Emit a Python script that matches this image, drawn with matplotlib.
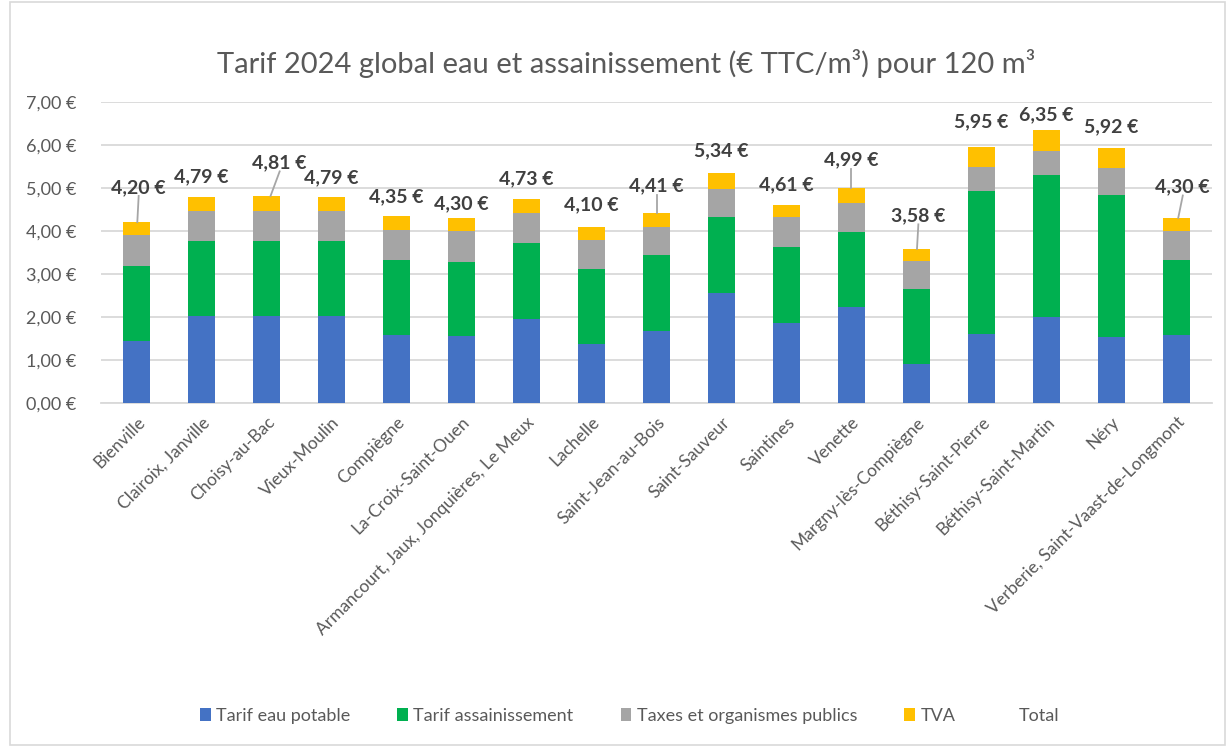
import numpy as np
import matplotlib
matplotlib.use("Agg")
import matplotlib.pyplot as plt
from matplotlib.patches import Patch, Rectangle

plt.rcParams['font.family'] = ['Lato', 'DejaVu Sans']

communes = ['Bienville', 'Clairoix, Janville', 'Choisy-au-Bac', 'Vieux-Moulin', 'Compiègne',
            'La-Croix-Saint-Ouen', 'Armancourt, Jaux, Jonquières, Le Meux', 'Lachelle',
            'Saint-Jean-au-Bois', 'Saint-Sauveur', 'Saintines', 'Venette', 'Margny-lès-Compiègne',
            'Béthisy-Saint-Pierre', 'Béthisy-Saint-Martin', 'Néry', 'Verberie, Saint-Vaast-de-Longmont']
eau_potable = [1.45, 2.01, 2.01, 2.01, 1.58, 1.55, 1.96, 1.36, 1.68, 2.55, 1.87, 2.23, 0.90, 1.61, 1.99, 1.53, 1.58]
assainissement = [1.74, 1.76, 1.76, 1.76, 1.75, 1.73, 1.75, 1.76, 1.76, 1.76, 1.76, 1.75, 1.75, 3.32, 3.31, 3.31, 1.75]
taxes = [0.71, 0.69, 0.69, 0.69, 0.70, 0.72, 0.70, 0.67, 0.65, 0.67, 0.68, 0.67, 0.65, 0.55, 0.56, 0.62, 0.67]
total = [4.20, 4.79, 4.81, 4.79, 4.35, 4.30, 4.73, 4.10, 4.41, 5.34, 4.61, 4.99, 3.58, 5.95, 6.35, 5.92, 4.30]
tva = [t - a - b - c for t, a, b, c in zip(total, eau_potable, assainissement, taxes)]

# label placement (Excel labels were moved by hand)
label_dy = [0.81, 0.46, 0.77, 0.44, 0.44, 0.32, 0.49, 0.51, 0.63, 0.51, 0.46, 0.65, 0.77, 0.58, 0.35, 0.49, 0.72]
label_dx = [0.03, 0, 0.2, 0, 0, 0, 0, 0, 0, 0, 0, 0, 0.03, 0, 0, 0, 0.1]
leader = [1, 0, 1, 0, 0, 0, 0, 0, 1, 0, 0, 1, 1, 0, 0, 0, 1]

c_blue, c_green, c_gray, c_yellow = '#4472C4', '#00B050', '#A5A5A5', '#FFC000'
txt = '#595959'

fig = plt.figure(figsize=(12.27, 7.47), dpi=100)
fig.patches.append(Rectangle((0.008, 0.003), 0.99, 0.994, transform=fig.transFigure,
                             fill=False, edgecolor='#d9d9d9', linewidth=1.2))
ax = fig.add_axes([0.0823, 0.4605, 0.9055, 0.4034])

x = np.arange(len(communes))
w = 0.41
b1 = np.array(eau_potable)
b2 = b1 + np.array(assainissement)
b3 = b2 + np.array(taxes)
ax.bar(x, eau_potable, w, color=c_blue, label='Tarif eau potable', zorder=3)
ax.bar(x, assainissement, w, bottom=b1, color=c_green, label='Tarif assainissement', zorder=3)
ax.bar(x, taxes, w, bottom=b2, color=c_gray, label='Taxes et organismes publics', zorder=3)
ax.bar(x, tva, w, bottom=b3, color=c_yellow, label='TVA', zorder=3)

for i, t in enumerate(total):
    lx = x[i] + label_dx[i]
    ly = t + label_dy[i]
    ax.text(lx, ly, f'{t:.2f} €'.replace('.', ','), ha='center', va='center',
            fontsize=14, fontweight='bold', color='#404040', zorder=5)
    if leader[i]:
        ax.plot([lx, x[i] + label_dx[i] * 0.3], [ly - 0.2, t], color='#a6a6a6', lw=1.3, zorder=4)

ax.set_xlim(-0.55, len(communes) - 0.45)
ax.set_ylim(0, 7)
ax.set_yticks(np.arange(0, 8, 1))
ax.set_yticklabels([f'{v:.2f} €'.replace('.', ',') for v in range(8)], fontsize=13, color=txt)
ax.set_xticks(x)
ax.set_xticklabels(communes, rotation=45, ha='right', rotation_mode='anchor', fontsize=12.5, color=txt)
ax.grid(axis='y', color='#d9d9d9', lw=1.3, zorder=0)
ax.tick_params(axis='y', length=0, pad=18)
ax.tick_params(axis='x', length=0, pad=8)
for s in ['top', 'right', 'left']:
    ax.spines[s].set_visible(False)
ax.spines['bottom'].set_color('#d9d9d9')
ax.spines['bottom'].set_linewidth(1.3)

fig.suptitle('Tarif 2024 global eau et assainissement (€ TTC/m³) pour 120 m³',
             x=0.51, y=0.935, fontsize=21, color=txt)

handles, labels = ax.get_legend_handles_labels()
handles.append(Patch(facecolor='none', edgecolor='none'))
labels.append('Total')
fig.legend(handles, labels, loc='center', bbox_to_anchor=(0.513, 0.042), ncol=5, frameon=False,
           fontsize=13, labelcolor=txt, handlelength=0.6, handleheight=0.7,
           handletextpad=0.3, columnspacing=2.6)

fig.savefig('out.png', dpi=100)
